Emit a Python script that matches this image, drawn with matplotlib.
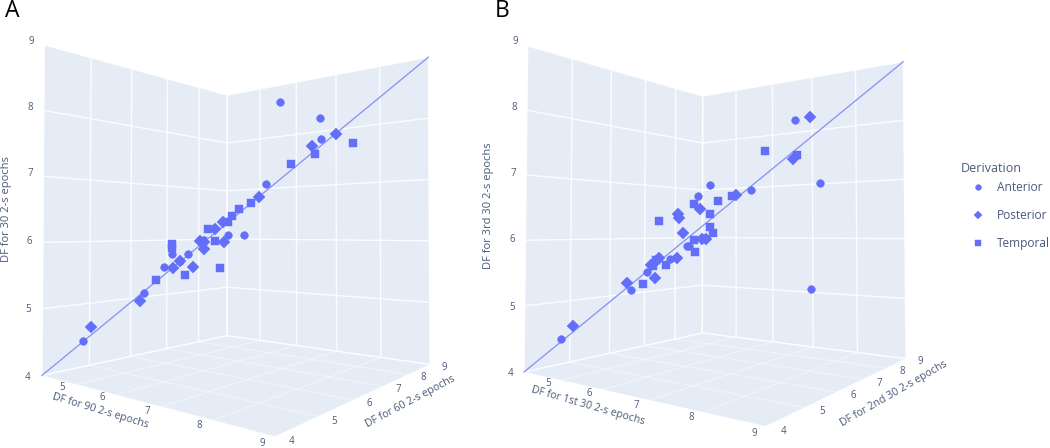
import matplotlib
matplotlib.use("Agg")
import matplotlib.pyplot as plt
import numpy as np

plt.rcParams['font.family'] = ['Open Sans', 'DejaVu Sans']

# values: u is DF on both horizontal axes, z is the vertical axis
a_ant_u = [4.49,5.24,5.49,5.59,5.79,5.69,6.30,6.51,6.98,7.51,7.52,6.80]
a_ant_z = [4.50,5.21,5.61,5.81,5.81,5.70,6.10,6.10,8.21,7.97,7.63,6.91]
a_pos_u = [4.59,5.19,5.60,5.69,5.85,5.94,6.00,6.00,6.25,6.14,6.24,6.70,7.40,7.73]
a_pos_z = [4.71,5.10,5.60,5.70,5.61,6.01,6.00,5.89,6.00,6.20,6.31,6.70,7.51,7.72]
a_tem_u = [5.59,5.59,5.39,5.75,6.05,6.14,6.20,6.30,6.35,6.45,6.60,7.96,7.44,7.12,5.98]
a_tem_z = [5.90,5.97,5.41,5.49,6.20,6.01,5.59,6.30,6.40,6.51,6.60,7.57,7.39,7.22,6.01]

b_ant_u = [4.44,5.30,7.67,5.50,5.80,6.01,6.04,6.15,6.32,6.86,7.46,7.80]
b_ant_z = [4.49,5.21,5.18,5.49,5.70,5.90,5.90,6.70,6.88,6.80,7.95,6.93]
b_pos_u = [4.59,5.25,5.60,5.55,5.62,5.65,5.89,5.96,5.90,5.91,6.18,6.21,6.26,6.66,7.67,7.43]
b_pos_z = [4.68,5.32,5.40,5.60,5.67,5.71,5.71,6.10,6.41,6.34,6.49,6.00,6.00,6.71,8.01,7.31]
b_tem_u = [5.45,5.58,5.75,5.65,6.10,6.42,6.32,6.31,6.36,6.10,6.12,6.61,7.05,7.48,5.62]
b_tem_z = [5.31,5.59,5.60,6.30,6.57,6.61,6.40,6.20,6.10,6.00,5.80,6.70,7.44,7.38,5.68]

ticks = [4, 5, 6, 7, 8, 9]
derivations = ['Anterior', 'Posterior', 'Temporal']
markers = {'Anterior': 'o', 'Posterior': 'D', 'Temporal': 's'}
msize = {'Anterior': 5.6, 'Posterior': 6.2, 'Temporal': 6.2}

blue = '#636efa'
pane = '#e5ecf6'
txt = '#4a5a78'

cube = [(4,4,4),(4,9,4),(9,9,4),(9,4,4),(4,4,9),(4,9,9),(9,9,9)]
corners_a = [(42,375),(227,336),(430,364),(275,437),(44.3,45),(227.3,95),(428.3,57.3)]
corners_b = [(524,371.7),(702.3,333.3),(906,358.3),(765.7,426.7),(527.7,46),(702.7,96),(903.3,61.7)]


def fit_camera(c3, c2):
    rows = []
    for (x, y, z), (u, v) in zip(c3, c2):
        rows.append([x,y,z,1,0,0,0,0,-u*x,-u*y,-u*z,-u])
        rows.append([0,0,0,0,x,y,z,1,-v*x,-v*y,-v*z,-v])
    return np.linalg.svd(np.array(rows))[2][-1].reshape(3, 4)


def project(P, x, y, z):
    x, y, z = np.broadcast_arrays(x, y, z)
    h = P @ np.vstack([x, y, z, np.ones(x.shape)])
    return h[0] / h[2], h[1] / h[2]


def draw_scene(ax, corners, data, xlabel, ylabel, zlabel, layout):
    P = fit_camera(cube, corners)

    # panes
    for pts in ([(4,4,4),(4,9,4),(4,9,9),(4,4,9)],
                [(4,9,4),(9,9,4),(9,9,9),(4,9,9)],
                [(4,4,4),(4,9,4),(9,9,4),(9,4,4)]):
        px, py = project(P, *np.array(pts).T)
        ax.fill(px, py, color=pane, lw=0, zorder=1)

    # grid on the walls, floor grid is much fainter
    for t in ticks:
        for s, e in [((4,t,4),(4,t,9)), ((4,4,t),(4,9,t)),
                     ((t,9,4),(t,9,9)), ((4,9,t),(9,9,t))]:
            px, py = project(P, *np.array([s, e]).T)
            ax.plot(px, py, color='white', lw=1.0, alpha=0.85, zorder=2, solid_capstyle='butt')
        for s, e in [((t,4,4),(t,9,4)), ((4,t,4),(9,t,4))]:
            px, py = project(P, *np.array([s, e]).T)
            ax.plot(px, py, color='white', lw=0.8, alpha=0.45, zorder=2, solid_capstyle='butt')

    # identity line
    px, py = project(P, [4, 9], [4, 9], [4, 9])
    ax.plot(px, py, color='#8a93f6', lw=0.95, zorder=3)

    for name, u, z in data:
        u = np.array(u)
        px, py = project(P, u, u, np.array(z))
        ax.plot(px, py, ls='none', marker=markers[name], ms=msize[name], mfc=blue,
                mec=blue, mew=0.3, zorder=4)

    for t, (tx, ty) in zip(ticks, layout['zt']):
        ax.text(tx, ty, str(t), fontsize=7, color=txt, ha='center', va='center')
    for t, (tx, ty) in zip(ticks[1:], layout['xt']):
        ax.text(tx, ty, str(t), fontsize=7, color=txt, ha='center', va='center')
    for t, (tx, ty) in zip(ticks, layout['yt']):
        ax.text(tx, ty, str(t), fontsize=7, color=txt, ha='center', va='center')

    tx, ty, rot = layout['xl']
    ax.text(tx, ty, xlabel, fontsize=7.6, color=txt, ha='center', va='center',
            rotation=rot, rotation_mode='anchor')
    tx, ty, rot = layout['yl']
    ax.text(tx, ty, ylabel, fontsize=7.6, color=txt, ha='center', va='center',
            rotation=rot, rotation_mode='anchor')
    tx, ty = layout['zl']
    ax.text(tx, ty, zlabel, fontsize=8.0, color=txt, ha='center', va='center', rotation=90)


layout_a = {
    'zt': [(28,378),(28,309),(29,241),(30,174),(30,107),(31,41)],
    'xt': [(62,387),(102,398),(147,411),(199,426),(262,443)],
    'yt': [(292,442),(334,421),(369,404),(398,389),(423,377),(444,367)],
    'xl': (100,411,-16.7),
    'yl': (410,402,28),
    'zl': (7,209),
}
layout_b = {
    'zt': [(511,374),(512,307),(512,240),(513,173),(514,107),(515,41)],
    'xt': [(548,384),(589,394),(636,405),(691,418),(754,433)],
    'yt': [(784,432),(822,412),(853,396),(879,383),(902,371),(920,361)],
    'xl': (588,406,-16),
    'yl': (894,394,30),
    'zl': (489,206),
}

fig = plt.figure(figsize=(10.5, 4.48), dpi=100)
ax = fig.add_axes([0, 0, 1, 1])
ax.set_xlim(0, 1050)
ax.set_ylim(448, 0)
ax.axis('off')

draw_scene(ax, corners_a,
           [('Anterior', a_ant_u, a_ant_z), ('Posterior', a_pos_u, a_pos_z), ('Temporal', a_tem_u, a_tem_z)],
           'DF for 90 2-s epochs', 'DF for 60 2-s epochs', 'DF for 30 2-s epochs', layout_a)
draw_scene(ax, corners_b,
           [('Anterior', b_ant_u, b_ant_z), ('Posterior', b_pos_u, b_pos_z), ('Temporal', b_tem_u, b_tem_z)],
           'DF for 1st 30 2-s epochs', 'DF for 2nd 30 2-s epochs', 'DF for 3rd 30 2-s epochs', layout_b)

ax.text(5, 11, 'A', fontsize=16.5, color='black', ha='left', va='center')
ax.text(495, 11, 'B', fontsize=16.5, color='black', ha='left', va='center')

# legend
ax.text(961, 169, 'Derivation', fontsize=9, color=txt, ha='left', va='center')
for name, ly in zip(derivations, [187.5, 215.3, 243.3]):
    ax.plot([977.7], [ly], ls='none', marker=markers[name], ms=4.2 if name != 'Posterior' else 3.8,
            mfc=blue, mec=blue, mew=0.3)
    ax.text(997, ly, name, fontsize=8.6, color=txt, ha='left', va='center')

fig.savefig('out.png', dpi=100)
